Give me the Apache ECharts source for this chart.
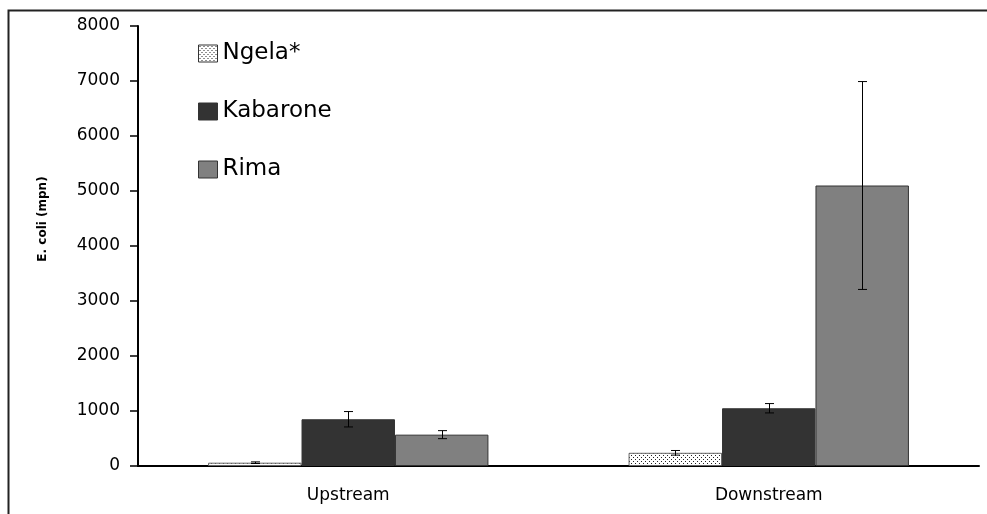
<!DOCTYPE html>
<html>
<head>
<meta charset="utf-8">
<script src="https://cdn.jsdelivr.net/npm/echarts@6/dist/echarts.min.js"></script>
<style>html,body{margin:0;padding:0;background:#fff}#c{width:987px;height:514px}</style>
</head>
<body>
<div id="c"></div>
<script>
const categories = ['Upstream', 'Downstream'];
const seriesNames = ['Ngela*', 'Kabarone', 'Rima'];
const ngela = [60, 240];
const ngelaErr = [15, 42];
const kabarone = [850, 1050];
const kabaroneErr = [140, 85];
const rima = [570, 5100];
const rimaErr = [73, 1890];
const yTicks = [0, 1000, 2000, 3000, 4000, 5000, 6000, 7000, 8000];

// dotted pattern for Ngela
const pat = document.createElement('canvas');
pat.width = 4; pat.height = 4;
const pc = pat.getContext('2d');
pc.fillStyle = '#ffffff'; pc.fillRect(0, 0, 4, 4);
pc.fillStyle = '#222222'; pc.fillRect(1, 1, 1, 1); pc.fillRect(3, 3, 1, 1);

const values = [ngela, kabarone, rima];
const errs = [ngelaErr, kabaroneErr, rimaErr];
const errData = [];
for (let s = 0; s < 3; s++) {
  for (let i = 0; i < categories.length; i++) {
    errData.push([i, values[s][i] - errs[s][i], values[s][i] + errs[s][i], s]);
  }
}

const font = 'DejaVu Sans';
const chart = echarts.init(document.getElementById('c'), null, {renderer: 'canvas'});
const barStyle = (color) => ({color: color, borderColor: '#333333', borderWidth: 1});
chart.setOption({
  animation: false,
  backgroundColor: '#ffffff',
  grid: {left: 138, right: 8, top: 26, bottom: 48, containLabel: false},
  legend: {
    orient: 'vertical', left: 193, top: 37, itemGap: 35, icon: 'rect',
    itemWidth: 19, itemHeight: 17,
    data: seriesNames,
    textStyle: {fontFamily: font, fontSize: 23, color: '#000'},
    itemStyle: {borderColor: '#333333', borderWidth: 1}
  },
  graphic: [
    {type: 'rect', shape: {x: 8.5, y: 10.5, width: 1100, height: 700}, style: {fill: 'none', stroke: '#222', lineWidth: 2}, z: 100},
    {type: 'text', x: 43, y: 219, rotation: Math.PI / 2,
     style: {text: 'E. coli (mpn)', font: 'bold 12px "DejaVu Sans"', fill: '#000', align: 'center', verticalAlign: 'middle'}}
  ],
  xAxis: {
    type: 'category', data: categories,
    axisLine: {lineStyle: {color: '#000', width: 2}},
    axisTick: {length: 8, lineStyle: {color: '#000', width: 2}},
    axisLabel: {fontFamily: font, fontSize: 17, color: '#000', margin: 21},
    splitLine: {show: false}
  },
  yAxis: {
    type: 'value', min: 0, max: 8000, interval: 1000,
    axisLine: {show: true, lineStyle: {color: '#000', width: 2}},
    axisTick: {show: true, length: 8, lineStyle: {color: '#000', width: 1.5}},
    axisLabel: {fontFamily: font, fontSize: 17, color: '#000', margin: 18,
      formatter: (v) => yTicks.includes(v) ? String(v) : ''},
    splitLine: {show: false}
  },
  series: [
    {name: seriesNames[0], type: 'bar', data: ngela, barGap: '0%', barCategoryGap: '33.33%',
     itemStyle: {color: {image: pat, repeat: 'repeat'}, borderColor: '#666', borderWidth: 1}},
    {name: seriesNames[1], type: 'bar', data: kabarone, barGap: '0%', barCategoryGap: '33.33%',
     itemStyle: barStyle('#333333')},
    {name: seriesNames[2], type: 'bar', data: rima, barGap: '0%', barCategoryGap: '33.33%',
     itemStyle: barStyle('#808080')},
    {type: 'custom', data: errData, encode: {x: 0, y: [1, 2]}, z: 10,
     renderItem: function (params, api) {
       const ci = api.value(0);
       const lo = api.coord([ci, api.value(1)]);
       const hi = api.coord([ci, api.value(2)]);
       const band = api.size([1, 0])[0];
       const bw = band * (2 / 3) / 3;
       const x = Math.round(lo[0] + (api.value(3) - 1) * bw) + 0.5;
       const cap = 4.5;
       const st = {stroke: '#000', lineWidth: 1};
       return {type: 'group', children: [
         {type: 'line', shape: {x1: x, y1: lo[1], x2: x, y2: hi[1]}, style: st},
         {type: 'line', shape: {x1: x - cap, y1: lo[1], x2: x + cap, y2: lo[1]}, style: st},
         {type: 'line', shape: {x1: x - cap, y1: hi[1], x2: x + cap, y2: hi[1]}, style: st}
       ]};
     }}
  ]
});
</script>
</body>
</html>
